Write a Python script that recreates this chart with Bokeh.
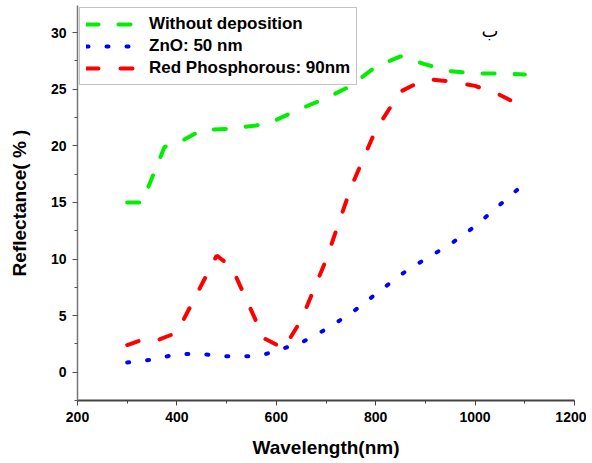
from bokeh.plotting import figure
from bokeh.models import SingleIntervalTicker, Legend, LegendItem, Label, Range1d
from bokeh.embed import file_html
from bokeh.resources import INLINE

# ---- data ----
wl_green = [300, 330, 375, 400, 450, 500, 560, 600, 650, 700, 750, 800, 850, 900, 950, 1000, 1050, 1100]
refl_green = [15.0, 15.0, 19.9, 20.2, 21.4, 21.5, 21.8, 22.3, 23.3, 24.2, 25.3, 27.0, 27.9, 27.2, 26.6, 26.4, 26.4, 26.3]

wl_blue = [300, 350, 400, 450, 500, 550, 575, 600, 650, 700, 750, 800, 850, 900, 950, 1000, 1050, 1095]
refl_blue = [0.85, 1.1, 1.6, 1.6, 1.4, 1.4, 1.55, 1.9, 2.6, 3.8, 5.2, 6.9, 8.6, 10.0, 11.3, 12.9, 14.8, 16.5]

wl_red = [300, 345, 365, 400, 480, 510, 575, 615, 650, 700, 750, 800, 850, 900, 950, 1000, 1050, 1090]
refl_red = [2.4, 3.1, 2.9, 3.5, 10.3, 9.3, 3.0, 2.1, 4.6, 9.9, 16.3, 21.4, 24.8, 25.9, 25.7, 25.3, 24.5, 23.6]

series_names = ["Without deposition", "ZnO: 50 nm", "Red Phosphorous: 90nm"]
x_label = "Wavelength(nm)"
y_label = "Reflectance( % )"
corner_text = "ب"
corner_x, corner_y = 1030, 30.2

FONT = "Liberation Sans"

p = figure(frame_width=497, frame_height=395, output_backend="svg", toolbar_location=None,
           x_range=Range1d(200, 1200), y_range=Range1d(-2.5, 32.4),
           min_border_left=77, min_border_right=12, min_border_top=5, min_border_bottom=58)
p.outline_line_color = None
p.xgrid.visible = False
p.ygrid.visible = False
p.background_fill_color = "white"
p.border_fill_color = "white"

rg = p.line(wl_green, refl_green, line_color="#00ee00", line_width=4, line_dash="12 20", line_cap="round")
rb = p.line(wl_blue, refl_blue, line_color="#0000ff", line_width=4, line_dash="2 18", line_cap="round")
rr = p.line(wl_red, refl_red, line_color="#ff0000", line_width=4, line_dash="12 22", line_cap="round")

p.xaxis.ticker = SingleIntervalTicker(interval=200, num_minor_ticks=2)
p.yaxis.ticker = SingleIntervalTicker(interval=5, num_minor_ticks=2)

for ax in (p.xaxis[0], p.yaxis[0]):
    ax.major_tick_in = 0
    ax.major_tick_out = 5
    ax.minor_tick_in = 0
    ax.minor_tick_out = 3
    ax.major_label_text_font = FONT
    ax.major_label_text_font_style = "bold"
    ax.major_label_text_font_size = "14px"
    ax.major_label_text_color = "black"
    ax.axis_label_text_font = FONT
    ax.axis_label_text_font_style = "bold"
    ax.axis_label_text_font_size = "19px"
    ax.axis_label_text_color = "black"
    ax.major_label_standoff = 6

p.xaxis.axis_label = x_label
p.yaxis.axis_label = y_label
p.xaxis.axis_line_color = "#444444"
p.xaxis.axis_line_width = 2
p.xaxis.major_tick_line_color = "#444444"
p.xaxis.minor_tick_line_color = "#444444"
p.yaxis.axis_line_color = "#777777"
p.yaxis.axis_line_width = 1.5
p.yaxis.major_tick_line_color = "#555555"
p.yaxis.minor_tick_line_color = "#555555"
p.xaxis.axis_label_standoff = 12
p.yaxis.axis_label_standoff = 18

legend = Legend(items=[LegendItem(label=series_names[0], renderers=[rg]),
                       LegendItem(label=series_names[1], renderers=[rb]),
                       LegendItem(label=series_names[2], renderers=[rr])],
                location="top_left", margin=2, padding=6, spacing=2,
                glyph_width=56, glyph_height=20, label_height=20, label_standoff=7,
                label_text_font=FONT, label_text_font_style="bold", label_text_font_size="17px",
                label_text_color="black", border_line_color="#888888", border_line_width=1.5,
                background_fill_color="white", background_fill_alpha=1.0)
p.add_layout(legend)

p.add_layout(Label(x=corner_x, y=corner_y, text=corner_text, text_font="DejaVu Sans",
                   text_font_size="18px", text_font_style="normal", text_align="center",
                   text_baseline="middle", text_color="black"))

open("out.html", "w").write(file_html(p, INLINE))
